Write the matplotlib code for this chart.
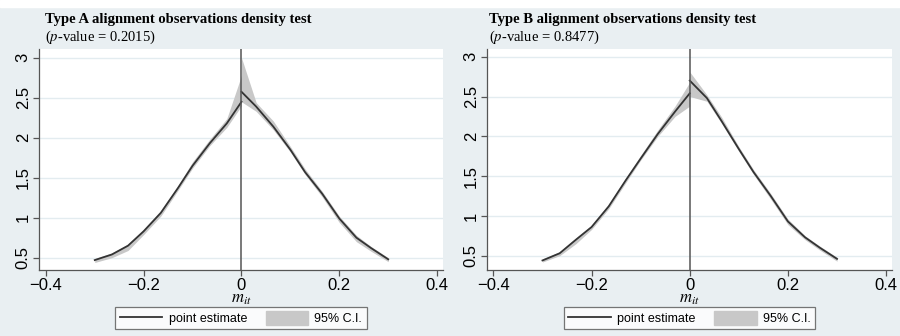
import numpy as np
import matplotlib; matplotlib.use("Agg")
import matplotlib.pyplot as plt
from matplotlib.patches import Rectangle, Patch
from matplotlib.lines import Line2D

plt.rcParams["font.family"] = ["Liberation Sans", "DejaVu Sans"]
plt.rcParams["mathtext.fontset"] = "stix"

BG = "#e9eff2"; GRID = "#e3ecf0"; BAND = "#c8c8c8"; LINE = "#333333"

# ---------- data ----------
xl = [-0.30, -0.265, -0.232, -0.20, -0.165, -0.13, -0.10, -0.065, -0.03, 0.0]
xr_a = [0.0, 0.03, 0.065, 0.10, 0.13, 0.165, 0.20, 0.235, 0.265, 0.30]
xr_b = [0.0, 0.035, 0.065, 0.10, 0.13, 0.165, 0.20, 0.235, 0.265, 0.30]

a_left = [0.47, 0.54, 0.65, 0.83, 1.06, 1.37, 1.65, 1.93, 2.18, 2.45]
a_left_lo = [0.44, 0.50, 0.59, 0.79, 1.02, 1.34, 1.62, 1.90, 2.13, 2.40]
a_left_hi = [0.49, 0.56, 0.67, 0.86, 1.09, 1.40, 1.70, 1.98, 2.24, 2.78]
a_right = [2.575, 2.39, 2.14, 1.85, 1.57, 1.30, 0.99, 0.75, 0.62, 0.48]
a_right_lo = [2.45, 2.33, 2.10, 1.82, 1.54, 1.26, 0.94, 0.70, 0.58, 0.45]
a_right_hi = [3.00, 2.44, 2.21, 1.89, 1.61, 1.33, 1.02, 0.78, 0.64, 0.50]

b_left = [0.44, 0.53, 0.70, 0.86, 1.12, 1.45, 1.72, 2.03, 2.31, 2.54]
b_left_lo = [0.42, 0.50, 0.65, 0.83, 1.09, 1.42, 1.70, 2.00, 2.25, 2.38]
b_left_hi = [0.46, 0.55, 0.72, 0.88, 1.15, 1.48, 1.76, 2.08, 2.38, 2.68]
b_right = [2.70, 2.48, 2.19, 1.84, 1.55, 1.25, 0.93, 0.73, 0.60, 0.46]
b_right_lo = [2.50, 2.44, 2.16, 1.81, 1.52, 1.21, 0.89, 0.70, 0.57, 0.43]
b_right_hi = [2.81, 2.52, 2.24, 1.87, 1.58, 1.28, 0.96, 0.75, 0.62, 0.48]

titles = ["Type A alignment observations density test",
          "Type B alignment observations density test"]
pvals = ["0.2015", "0.8477"]
xticks = [-0.4, -0.2, 0, 0.2, 0.4]
xticklabels = ["\u22120.4", "\u22120.2", "0", "0.2", "0.4"]
yticks = [0.5, 1, 1.5, 2, 2.5, 3]
yticklabels = ["0.5", "1", "1.5", "2", "2.5", "3"]

W, H = 900, 336
fig = plt.figure(figsize=(9, 3.36), dpi=100)
fig.patch.set_facecolor(BG)
fig.patches.append(Rectangle((0, 1 - 7 / H), 1, 7 / H, transform=fig.transFigure,
                             color="white", zorder=0))

panels = [
    dict(px=(39, 443), ylim=(0.346, 3.11), xlim=(-0.414, 0.412), tx=45,
         branches=[(xl, a_left, a_left_lo, a_left_hi), (xr_a, a_right, a_right_lo, a_right_hi)]),
    dict(px=(487, 892), ylim=(0.32, 3.097), xlim=(-0.413, 0.412), tx=489,
         branches=[(xl, b_left, b_left_lo, b_left_hi), (xr_b, b_right, b_right_lo, b_right_hi)]),
]
top, bot = 49, 270

for i, p in enumerate(panels):
    l, r = p["px"]
    ax = fig.add_axes([l / W, 1 - bot / H, (r - l) / W, (bot - top) / H])
    ax.set_facecolor("white")
    for xs, ys, lo, hi in p["branches"]:
        ax.fill_between(xs, lo, hi, color=BAND, lw=0, zorder=2)
        ax.plot(xs, ys, color=LINE, lw=1.3, zorder=3)
    ax.axvline(0, color="#555555", lw=1.1, zorder=4)
    ax.set_xlim(*p["xlim"]); ax.set_ylim(*p["ylim"])
    ax.set_xticks(xticks); ax.set_xticklabels(xticklabels, fontsize=12)
    ax.set_yticks(yticks)
    ax.set_yticklabels(yticklabels, fontsize=12, rotation=90, va="center")
    ax.grid(axis="y", color=GRID, lw=1.0, zorder=1)
    ax.spines["top"].set_visible(False); ax.spines["right"].set_visible(False)
    for s in ("left", "bottom"):
        ax.spines[s].set_color("#555555"); ax.spines[s].set_linewidth(0.9)
    ax.tick_params(length=4, width=0.9, color="#555555", pad=2)
    ax.set_xlabel(r"$m_{it}$", fontsize=12, labelpad=-1)

    fig.text(p["tx"] / W, 1 - 13 / H, titles[i], family="Liberation Serif",
             fontweight="bold", fontsize=10.5, va="top", ha="left")
    fig.text(p["tx"] / W, 1 - 29 / H, r"($\it{p}$-value = " + pvals[i] + ")",
             family="Liberation Serif", fontsize=10.5, va="top", ha="left")

    handles = [Line2D([], [], color=LINE, lw=1.3),
               Patch(facecolor=BAND, edgecolor=BAND)]
    leg = ax.legend(handles, ["point estimate", "95% C.I."], ncol=2, loc="center",
                    bbox_to_anchor=((l + r) / 2 / W, 1 - 318 / H),
                    bbox_transform=fig.transFigure, fontsize=9, frameon=True,
                    fancybox=False, edgecolor="#555555", handlelength=3.4,
                    handleheight=1.3, columnspacing=1.5, borderpad=0.35,
                    handletextpad=0.5, borderaxespad=0)
    leg.get_frame().set_linewidth(0.9)

fig.savefig("out.png", dpi=100, facecolor=fig.get_facecolor())
